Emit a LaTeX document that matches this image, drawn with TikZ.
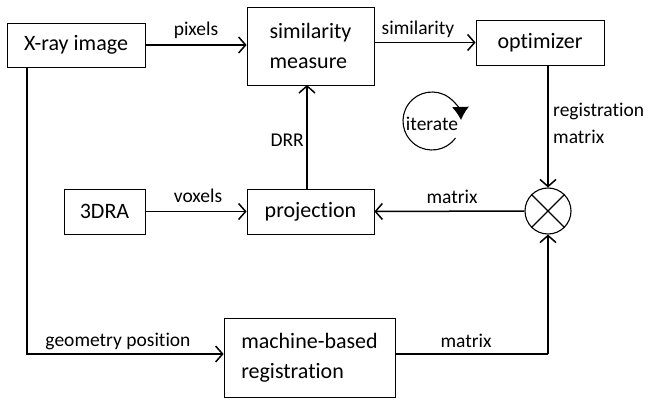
\documentclass[tikz,border=0pt]{standalone}
\usepackage{fontspec}
\setmainfont{Carlito}[Ligatures=NoCommon]
\usetikzlibrary{arrows.meta,shapes.misc}
\begin{document}
\begin{tikzpicture}[x=1pt,y=1pt,
  box/.style={draw,line width=0.8pt,rectangle,inner sep=0pt,font=\fontsize{22}{30}\selectfont},
  arr/.style={line width=1.5pt,-{Straight Barb[length=7pt,width=16pt,line width=1.5pt]}},
  conn/.style={line width=1.5pt},
  lbl/.style={font=\fontsize{19.5}{26}\selectfont,inner sep=0pt}]
\useasboundingbox (0,0) rectangle (649,-401);
\node[box,minimum width=138,minimum height=44] (xray) at (76,-45) {X-ray image};
\node[box,minimum width=127,minimum height=78,align=left] (sim) at (310.5,-46) {similarity\\measure};
\node[box,minimum width=128,minimum height=45] (opt) at (540,-42.5) {optimizer};
\node[box,minimum width=127,minimum height=45] (proj) at (310.5,-211.5) {projection};
\node[box,minimum width=81,minimum height=45] (dra) at (104.5,-211.5) {3DRA};
\node[box,minimum width=171,minimum height=79,align=left] (mach) at (309.5,-357.5) {machine-based\\registration};
\node[draw,line width=1.1pt,circle,minimum size=46,inner sep=0pt] (xm) at (548,-211) {};
\draw[line width=1.1pt] (xm.north west) -- (xm.south east) (xm.north east) -- (xm.south west);
\coordinate (xraydown) at (27,-67);
\coordinate (corner1) at (27,-354);
\coordinate (corner2) at (548,-354);
% connectors
\draw[arr] (xray.east) -- (xray.east -| sim.west);
\draw[arr] (opt.west -| sim.east) -- (opt.west);
\draw[arr] (xm.north |- opt.south) -- (xm.north);
\draw[arr] (307,-189) -- (307,-85);
\draw[arr] (dra.east) -- (proj.west);
\draw[arr] (xm.west) -- (proj.east);
\draw[arr] (xraydown) -- (corner1) -- (corner1 -| mach.west);
\draw[conn] (corner1 -| mach.east) -- (corner2);
\draw[arr] (corner2) -- (xm.south);
% labels
\node[lbl] (lpix) at (196,-30) {pixels};
\node[lbl] (lsim) at (418,-29) {similarity};
\node[lbl,anchor=west,align=left,font=\fontsize{19.5}{27}\selectfont] (lreg) at (553,-123) {registration\\matrix};
\node[lbl,anchor=east] (ldrr) at (304,-140) {DRR};
\node[lbl] (lvox) at (198,-196) {voxels};
\node[lbl] (lmat1) at (452,-197) {matrix};
\node[lbl] (lgeo) at (118,-341) {geometry position};
\node[lbl] (lmat2) at (466,-341) {matrix};
% iterate
\node[lbl] (lit) at (432,-124) {iterate};
\draw[line width=1.1pt,-{Latex[length=13pt,width=17pt]}] (432,-121) ++(-36:29) arc[start angle=-36,end angle=-358,radius=29];
\end{tikzpicture}
\end{document}
